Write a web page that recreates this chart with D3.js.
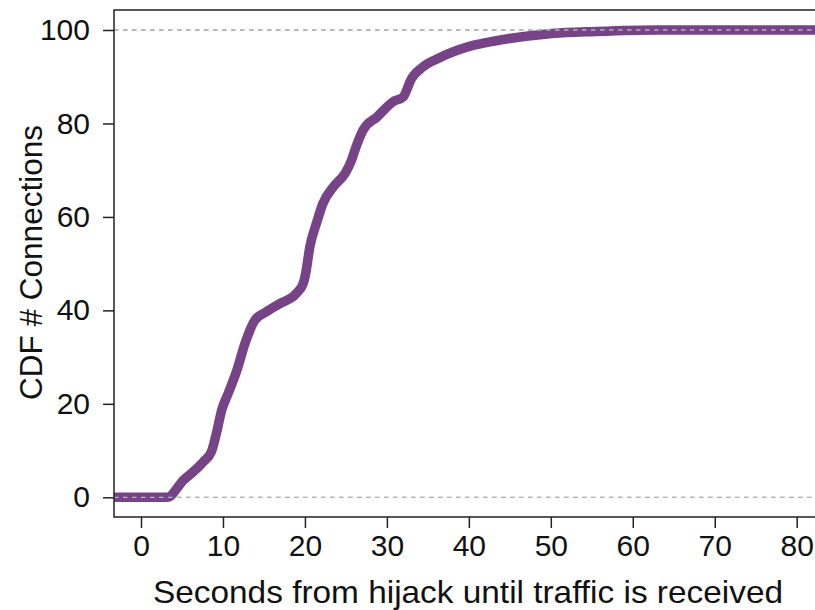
<!DOCTYPE html>
<html>
<head>
<meta charset="utf-8">
<script src="https://cdn.jsdelivr.net/npm/d3@7"></script>
<style>
  body { margin: 0; background: #fff; }
  text { font-family: "Liberation Sans", Arial, sans-serif; fill: #111; }
</style>
</head>
<body>
<div id="chart"></div>
<script>
// CDF of seconds from hijack until traffic is received
let seconds = [-5, 3.2, 5.2, 6.4, 7.6, 8.6, 9.2, 9.85, 10.65, 11.7, 12.7, 13.9, 15.3, 17.0, 19.0, 19.8, 20.1,
    20.6, 21.4, 22.2, 23.5, 24.9, 25.7, 26.0, 27.1, 28.8, 30.8, 32.0, 33.0, 34.4, 36.1, 38.5, 40.5,
    43.0, 45.4, 48.7, 51.5, 54.4, 63, 90]
let cdfPercent = [0, 0, 3.7, 5.5, 7.6, 9.8, 13.7, 18.7, 22.3, 27.2, 33.0, 37.9, 39.7, 41.5, 43.7, 45.8, 48.0,
    53.6, 58.6, 62.9, 66.5, 69.3, 72.2, 73.8, 78.6, 81.4, 84.7, 85.7, 89.6, 92.1, 93.8, 95.6, 96.7,
    97.6, 98.3, 99.0, 99.4, 99.6, 100, 100]
let xTicks = [0, 10, 20, 30, 40, 50, 60, 70, 80]
let yTicks = [0, 20, 40, 60, 80, 100]
let refLines = [0, 100]

let width = 815,
    height = 610
let plotLeft = 114, plotTop = 10, plotRight = 822, plotBottom = 517

let svg = d3.select("#chart").append("svg")
    .attr("width", width)
    .attr("height", height)

let xScale = d3.scaleLinear()
    .domain([0, 80])
    .range([141, 796.7])
let yScale = d3.scaleLinear()
    .domain([0, 100])
    .range([497.3, 30])

let plot = svg.append("g")

plot.append("clipPath").attr("id", "clip")
    .append("rect")
    .attr("x", plotLeft).attr("y", plotTop)
    .attr("width", plotRight - plotLeft).attr("height", plotBottom - plotTop)

// dashed reference lines
plot.selectAll(".ref")
    .data(refLines)
    .enter()
    .append("line")
    .attr("class", "ref")
    .attr("x1", plotLeft)
    .attr("x2", width)
    .attr("y1", function(d) { return yScale(d); })
    .attr("y2", function(d) { return yScale(d); })
    .attr("stroke", "#b4b4b4")
    .attr("stroke-width", 1.3)
    .attr("stroke-dasharray", "4.5,4.5")

let points = seconds.map(function(s, i) { return [s, cdfPercent[i]]; })
let line = d3.line()
    .x(function(d) { return xScale(d[0]); })
    .y(function(d) { return yScale(d[1]); })
    .curve(d3.curveMonotoneX)

plot.append("path")
    .datum(points)
    .attr("clip-path", "url(#clip)")
    .attr("d", line)
    .attr("fill", "none")
    .attr("stroke", "#764386")
    .attr("stroke-width", 9.5)
    .attr("stroke-linejoin", "round")

// dashes drawn over the line at 0 and 100, as in the original
plot.selectAll(".ref-top")
    .data(refLines)
    .enter()
    .append("line")
    .attr("class", "ref-top")
    .attr("x1", plotLeft).attr("x2", width)
    .attr("y1", function(d) { return yScale(d); })
    .attr("y2", function(d) { return yScale(d); })
    .attr("stroke", "#b4b4b4")
    .attr("stroke-width", 1.3)
    .attr("stroke-dasharray", "4.5,4.5")

// frame
svg.append("path")
    .attr("d", "M" + width + "," + plotTop + "H" + plotLeft + "V" + plotBottom + "H" + width)
    .attr("fill", "none")
    .attr("stroke", "#222")
    .attr("stroke-width", 1.5)

let xAxis = svg.append("g")
    .attr("transform", "translate(0," + plotBottom + ")")
    .call(d3.axisBottom(xScale).tickValues(xTicks).tickSize(11).tickPadding(7))
xAxis.select(".domain").remove()
xAxis.selectAll("line").attr("stroke", "#222").attr("stroke-width", 1.5)
xAxis.selectAll("text").style("font-size", "30px").attr("fill", "#111")

let yAxis = svg.append("g")
    .attr("transform", "translate(" + plotLeft + ",0)")
    .call(d3.axisLeft(yScale).tickValues(yTicks).tickSize(11).tickPadding(13))
yAxis.select(".domain").remove()
yAxis.selectAll("line").attr("stroke", "#222").attr("stroke-width", 1.5)
yAxis.selectAll("text").style("font-size", "30px").attr("fill", "#111")

svg.append("text")
    .attr("x", 468)
    .attr("y", 603)
    .attr("text-anchor", "middle")
    .attr("textLength", 630)
    .attr("lengthAdjust", "spacingAndGlyphs")
    .style("font-size", "32px")
    .text("Seconds from hijack until traffic is received")

svg.append("text")
    .attr("transform", "translate(41.5,262.5) rotate(-90)")
    .attr("text-anchor", "middle")
    .attr("textLength", 275)
    .attr("lengthAdjust", "spacingAndGlyphs")
    .style("font-size", "31.5px")
    .text("CDF # Connections")
</script>
</body>
</html>
